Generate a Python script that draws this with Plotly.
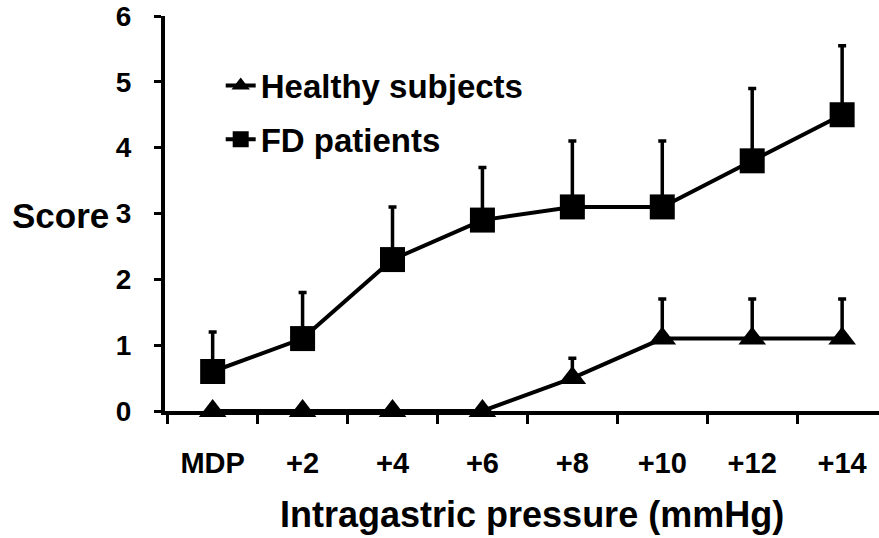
import plotly.graph_objects as go

# Distension steps above minimal distending pressure
pressures = ["MDP", "+2", "+4", "+6", "+8", "+10", "+12", "+14"]

# Mean symptom score and upper end of error bar (mean + SD)
healthy_mean = [0.0, 0.0, 0.0, 0.0, 0.5, 1.1, 1.1, 1.1]
healthy_upper = [0.0, 0.0, 0.0, 0.0, 0.8, 1.7, 1.7, 1.7]

fd_mean = [0.6, 1.1, 2.3, 2.9, 3.1, 3.1, 3.8, 4.5]
fd_upper = [1.2, 1.8, 3.1, 3.7, 4.1, 4.1, 4.9, 5.55]

y_ticks = [0, 1, 2, 3, 4, 5, 6]

FONT = "Liberation Sans, Arial, sans-serif"


def err_plus(mean, upper):
    return [u - m for m, u in zip(mean, upper)]


fig = go.Figure()

fig.add_trace(go.Scatter(
    x=pressures, y=healthy_mean,
    name="Healthy subjects", legendgroup="healthy",
    mode="lines+markers",
    line=dict(color="black", width=4),
    marker=dict(symbol="triangle-up", size=24, color="black", line=dict(width=0)),
    error_y=dict(type="data", symmetric=False,
                 array=err_plus(healthy_mean, healthy_upper),
                 arrayminus=[0] * len(healthy_mean),
                 color="black", thickness=3.5, width=4),
    cliponaxis=False,
))

fig.add_trace(go.Scatter(
    x=pressures, y=fd_mean,
    name="FD patients", legendgroup="fd",
    mode="lines+markers",
    line=dict(color="black", width=4),
    marker=dict(symbol="square", size=25, color="black", line=dict(width=0)),
    error_y=dict(type="data", symmetric=False,
                 array=err_plus(fd_mean, fd_upper),
                 arrayminus=[0] * len(fd_mean),
                 color="black", thickness=3.5, width=4),
    cliponaxis=False,
))

fig.update_layout(
    width=879, height=538,
    margin=dict(l=165, r=0, t=16, b=127),
    paper_bgcolor="white", plot_bgcolor="white",
    font=dict(family=FONT, color="black"),
    showlegend=True,
    legend=dict(
        x=0.078, y=0.895, xanchor="left", yanchor="top",
        bgcolor="rgba(0,0,0,0)",
        font=dict(family=FONT, size=33, weight="bold", color="black"),
        tracegroupgap=8,
        itemwidth=30,
    ),
    xaxis=dict(
        type="category",
        categoryorder="array", categoryarray=pressures,
        range=[-0.53, 7.41],
        showgrid=False, zeroline=False,
        showline=True, linecolor="black", linewidth=4,
        ticks="outside", tickson="boundaries",
        ticklen=9, tickwidth=3, tickcolor="black",
        tickfont=dict(family=FONT, size=29, weight="bold", color="black"),
        ticklabelstandoff=23,
    ),
    yaxis=dict(
        range=[0, 6],
        tickvals=y_ticks,
        showgrid=False, zeroline=False,
        showline=True, linecolor="black", linewidth=4,
        ticks="outside", ticklen=7, tickwidth=3, tickcolor="black",
        tickfont=dict(family=FONT, size=28, weight="bold", color="black"),
        ticklabelstandoff=17,
    ),
    annotations=[
        dict(text="Score", xref="paper", yref="paper",
             x=-0.147, y=0.495, xanchor="center", yanchor="middle",
             showarrow=False,
             font=dict(family=FONT, size=35, weight="bold", color="black")),
        dict(text="Intragastric pressure (mmHg)", xref="paper", yref="paper",
             x=0.514, y=-0.262, xanchor="center", yanchor="middle",
             showarrow=False,
             font=dict(family=FONT, size=36, weight="bold", color="black")),
    ],
)

fig.write_html("out.html")
